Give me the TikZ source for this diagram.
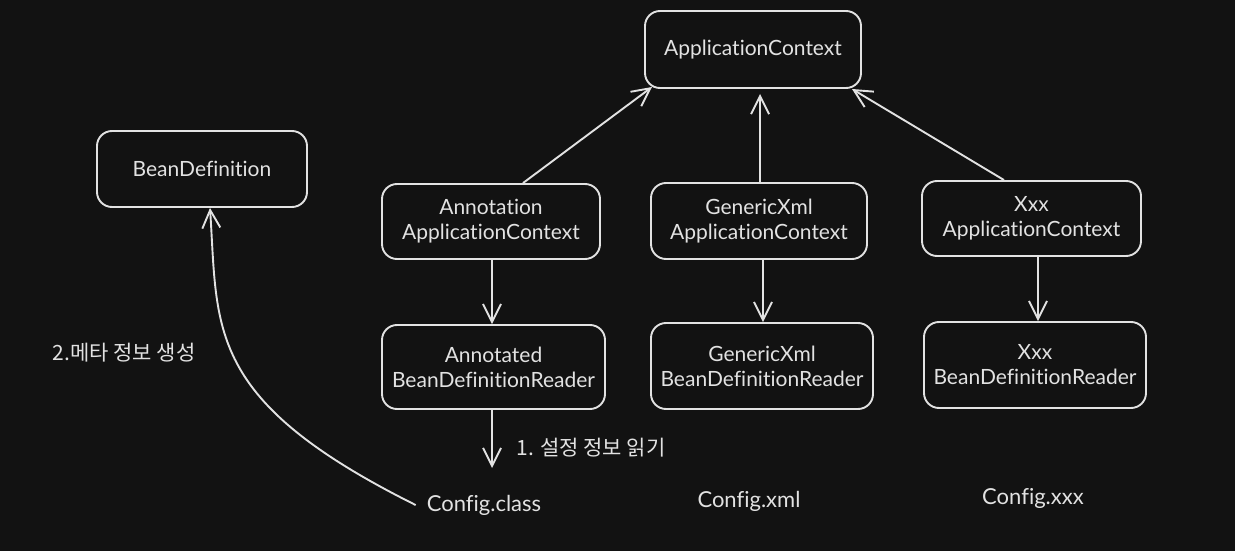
\documentclass[tikz,border=0pt]{standalone}
\usepackage{fontspec}
\setmainfont{Lato}[Ligatures={NoCommon,NoRare,NoContextual}]
\newfontfamily\krfont{Noto Sans CJK KR}
\usetikzlibrary{arrows.meta}
\definecolor{bg}{HTML}{121212}
\definecolor{ink}{HTML}{E2E2E2}
\begin{document}
\begin{tikzpicture}[x=1pt,y=-1pt,
  box/.style={draw=ink, line width=1.9pt, rounded corners=15pt, fill=bg, text=ink,
    align=center, inner sep=0pt, font=\fontsize{21}{25}\selectfont},
  conn/.style={draw=ink, line width=1.9pt, -{Straight Barb[length=18pt,width=18pt]}},
  lbl/.style={text=ink, inner sep=0pt, font=\fontsize{22}{25}\selectfont},
  krlbl/.style={text=ink, inner sep=0pt, font=\krfont\fontsize{21}{24}\selectfont}]
\fill[bg] (0,0) rectangle (1235,551);
\useasboundingbox (0,0) rectangle (1235,551);
% boxes
\node[box, minimum width=216pt, minimum height=77pt] (ac)  at (753,49.5) {ApplicationContext};
\node[box, minimum width=210pt, minimum height=76pt] (bd)  at (202,169) {BeanDefinition};
\node[box, minimum width=218pt, minimum height=75pt] (aac) at (491,221.5) {Annotation\\ApplicationContext};
\node[box, minimum width=216pt, minimum height=76pt] (gac) at (759,221) {GenericXml\\ApplicationContext};
\node[box, minimum width=219pt, minimum height=75pt] (xac) at (1031.5,218.5) {Xxx\\ApplicationContext};
\node[box, minimum width=223pt, minimum height=84pt] (ard) at (493.5,367) {Annotated\\BeanDefinitionReader};
\node[box, minimum width=222pt, minimum height=86pt] (grd) at (762,366) {GenericXml\\BeanDefinitionReader};
\node[box, minimum width=222pt, minimum height=86pt] (xrd) at (1035,365) {Xxx\\BeanDefinitionReader};
% config labels
\node[lbl] (cfgc) at (484,505) {Config.class};
\node[lbl] (cfgx) at (749,501) {Config.xml};
\node[lbl] (cfgz) at (1033,498) {Config.xxx};
\node[krlbl] (m2) at (124,353) {2.메타 정보 생성};
\node[krlbl] (m1) at (591,448) {1. 설정 정보 읽기};
\coordinate (rdend) at (492,468);
% connectors
\draw[conn] (aac.north -| 523,0) -- (652,87);
\draw[conn] (gac.north -| 760,0) -- (760,94);
\draw[conn] (xac.north -| 1004,0) -- (852,89);
\draw[conn] (aac.south -| 492,0) -- (ard.north -| 492,0);
\draw[conn] (gac.south -| 763,0) -- (grd.north -| 763,0);
\draw[conn] (xac.south -| 1038,0) -- (xrd.north -| 1038,0);
\draw[conn] (ard.south -| 492,0) -- (rdend);
\draw[conn] ([xshift=-11pt]cfgc.west) .. controls (205,400) and (218,330) .. (bd.south -| 210,0);
\end{tikzpicture}
\end{document}
